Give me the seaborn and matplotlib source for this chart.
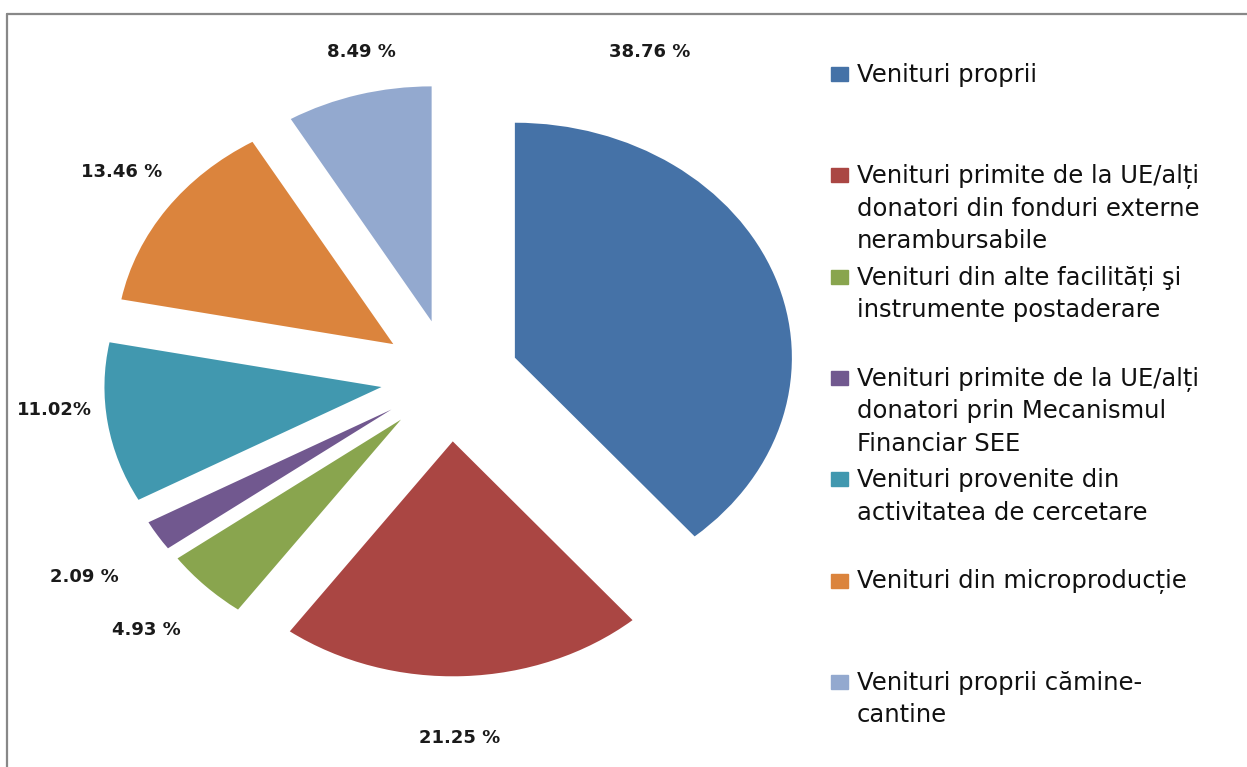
import matplotlib
matplotlib.use("Agg")
import matplotlib.pyplot as plt
import seaborn as sns
from matplotlib.patches import Rectangle
from matplotlib.lines import Line2D

categories = [
    "Venituri proprii",
    "Venituri primite de la UE/alți\ndonatori din fonduri externe\nnerambursabile",
    "Venituri din alte facilități şi\ninstrumente postaderare",
    "Venituri primite de la UE/alți\ndonatori prin Mecanismul\nFinanciar SEE",
    "Venituri provenite din\nactivitatea de cercetare",
    "Venituri din microproducție",
    "Venituri proprii cămine-\ncantine",
]
shares = [38.76, 21.25, 4.93, 2.09, 11.02, 13.46, 8.49]
pct_labels = ["38.76 %", "21.25 %", "4.93 %", "2.09 %", "11.02%", "13.46 %", "8.49 %"]
colors = ["#4572A7", "#AA4643", "#89A54E", "#71588F", "#4198AF", "#DB843D", "#93A9CF"]

# label spots (data units of the stretched pie), picked to match the original layout
label_xy = [(0.722, 1.387), (0.036, -1.532), (-1.094, -1.072), (-1.318, -0.847),
            (-1.426, -0.136), (-1.184, 0.877), (-0.318, 1.387)]
explode = [0.25, 0.27, 0.25, 0.25, 0.25, 0.25, 0.25]

sns.set_theme(style="white")
plt.rcParams['font.family'] = ['DejaVu Sans']

W, H = 1247, 767
fig = plt.figure(figsize=(W / 100, H / 100), dpi=100)
ax = fig.add_axes([10 / W, 7 / H, 800 / W, 745 / H])
pal = sns.color_palette(colors)
wedges, _ = ax.pie(shares, colors=pal, startangle=90, counterclock=False,
                   explode=explode, radius=1, wedgeprops=dict(linewidth=0))
ax.set_aspect('auto')
ax.set_xlim(-1.588, 1.300)
ax.set_ylim(-1.626, 1.545)
ax.axis('off')

for (x, y), txt in zip(label_xy, pct_labels):
    ax.text(x, y, txt, ha='center', va='center', fontsize=13,
            fontweight='bold', color='#1a1a1a')

# legend drawn by hand so every entry gets the same slot height
for i, (lab, c) in enumerate(zip(categories, pal)):
    base = 82 + i * 101.3
    fig.patches.append(Rectangle((831 / W, 1 - (base - 1) / H), 17 / W, 14 / H,
                                 transform=fig.transFigure, color=c))
    for j, line in enumerate(lab.split("\n")):
        fig.text(857 / W, 1 - (base + j * 32.5) / H, line, ha='left', va='baseline',
                 fontsize=17.5, color='#111111')

# outer chart frame (only top and left edges visible)
fig.add_artist(Line2D([7 / W, 1], [1 - 14 / H, 1 - 14 / H], transform=fig.transFigure,
                      color='#888888', lw=1.6))
fig.add_artist(Line2D([7 / W, 7 / W], [0, 1 - 14 / H], transform=fig.transFigure,
                      color='#888888', lw=1.6))

fig.savefig("out.png", dpi=100, facecolor='white')
